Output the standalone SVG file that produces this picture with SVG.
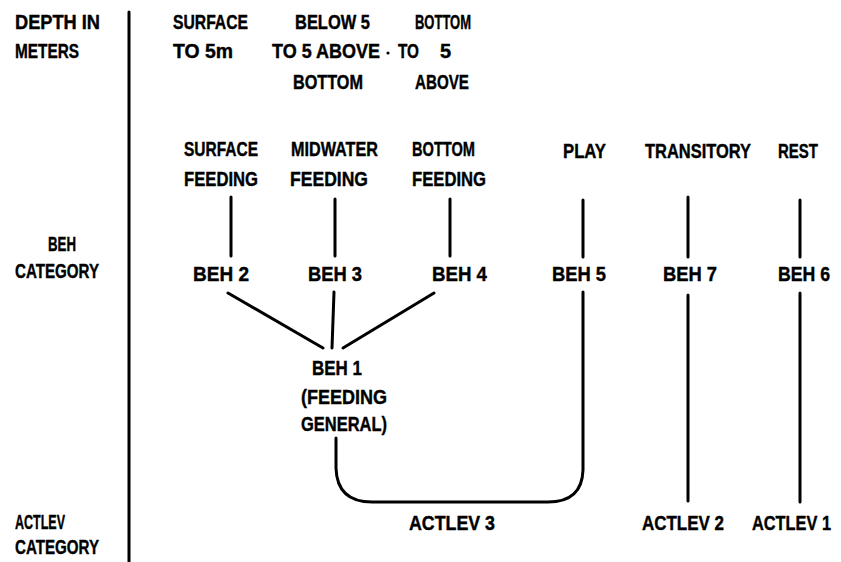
<svg xmlns="http://www.w3.org/2000/svg" width="841" height="562" viewBox="0 0 841 562">
<style>
text{font-family:"Liberation Sans",Arial,sans-serif;font-weight:bold;font-size:20px;fill:#000;stroke:#000;stroke-width:0.4}
.ln{stroke:#000;stroke-width:3;fill:none;stroke-linecap:round;stroke-linejoin:round}
</style>
<rect width="841" height="562" fill="#fff"/>
<g id="axis-labels">
<text x="15" y="29" textLength="85" lengthAdjust="spacingAndGlyphs">DEPTH IN</text>
<text x="15" y="58" textLength="64" lengthAdjust="spacingAndGlyphs">METERS</text>
<text x="48" y="251" textLength="28" lengthAdjust="spacingAndGlyphs">BEH</text>
<text x="15" y="278" textLength="84" lengthAdjust="spacingAndGlyphs">CATEGORY</text>
<text x="15" y="529" textLength="50" lengthAdjust="spacingAndGlyphs">ACTLEV</text>
<text x="15" y="554" textLength="84" lengthAdjust="spacingAndGlyphs">CATEGORY</text>
</g>
<g id="depth-surface">
<text x="173" y="29" textLength="75" lengthAdjust="spacingAndGlyphs">SURFACE</text>
<text x="173" y="58" textLength="60" lengthAdjust="spacingAndGlyphs">TO 5m</text>
</g>
<g id="depth-mid">
<text x="295" y="29" textLength="75" lengthAdjust="spacingAndGlyphs">BELOW 5</text>
<text x="272" y="58" textLength="108" lengthAdjust="spacingAndGlyphs">TO 5 ABOVE</text>
<text x="293" y="89" textLength="70" lengthAdjust="spacingAndGlyphs">BOTTOM</text>
</g>
<circle cx="388" cy="53" r="1.6" fill="#000"/>
<g id="depth-bottom">
<text x="415" y="29" textLength="56" lengthAdjust="spacingAndGlyphs">BOTTOM</text>
<text x="398" y="58"><tspan textLength="21" lengthAdjust="spacingAndGlyphs">TO</tspan> <tspan x="440">5</tspan></text>
<text x="415" y="89" textLength="54" lengthAdjust="spacingAndGlyphs">ABOVE</text>
</g>
<g id="surface-feeding">
<text x="184" y="156" textLength="74" lengthAdjust="spacingAndGlyphs">SURFACE</text>
<text x="184" y="186" textLength="74" lengthAdjust="spacingAndGlyphs">FEEDING</text>
</g>
<g id="midwater-feeding">
<text x="291" y="156" textLength="87" lengthAdjust="spacingAndGlyphs">MIDWATER</text>
<text x="290" y="186" textLength="78" lengthAdjust="spacingAndGlyphs">FEEDING</text>
</g>
<g id="bottom-feeding">
<text x="412" y="156" textLength="63" lengthAdjust="spacingAndGlyphs">BOTTOM</text>
<text x="412" y="186" textLength="74" lengthAdjust="spacingAndGlyphs">FEEDING</text>
</g>
<g id="play"><text x="563" y="158" textLength="43" lengthAdjust="spacingAndGlyphs">PLAY</text></g>
<g id="transitory"><text x="645" y="158" textLength="106" lengthAdjust="spacingAndGlyphs">TRANSITORY</text></g>
<g id="rest"><text x="778" y="158" textLength="40" lengthAdjust="spacingAndGlyphs">REST</text></g>
<g id="beh2"><text x="193" y="281" textLength="56" lengthAdjust="spacingAndGlyphs">BEH 2</text></g>
<g id="beh3"><text x="308" y="281" textLength="54" lengthAdjust="spacingAndGlyphs">BEH 3</text></g>
<g id="beh4"><text x="432" y="281" textLength="55" lengthAdjust="spacingAndGlyphs">BEH 4</text></g>
<g id="beh5"><text x="552" y="281" textLength="54" lengthAdjust="spacingAndGlyphs">BEH 5</text></g>
<g id="beh7"><text x="663" y="281" textLength="54" lengthAdjust="spacingAndGlyphs">BEH 7</text></g>
<g id="beh6"><text x="778" y="281" textLength="52" lengthAdjust="spacingAndGlyphs">BEH 6</text></g>
<g id="beh1">
<text x="312" y="375" textLength="50" lengthAdjust="spacingAndGlyphs">BEH 1</text>
<text x="301" y="404" textLength="86" lengthAdjust="spacingAndGlyphs">(FEEDING</text>
<text x="301" y="431" textLength="86" lengthAdjust="spacingAndGlyphs">GENERAL)</text>
</g>
<g id="actlev3"><text x="409" y="530" textLength="86" lengthAdjust="spacingAndGlyphs">ACTLEV 3</text></g>
<g id="actlev2"><text x="642" y="530" textLength="82" lengthAdjust="spacingAndGlyphs">ACTLEV 2</text></g>
<g id="actlev1"><text x="752" y="530" textLength="79" lengthAdjust="spacingAndGlyphs">ACTLEV 1</text></g>
<g id="connectors" class="ln">
<line x1="129" y1="12" x2="129" y2="562"/>
<line x1="231" y1="197" x2="231" y2="256"/>
<line x1="335" y1="199" x2="335" y2="256"/>
<line x1="450" y1="199" x2="450" y2="256"/>
<line x1="583" y1="200" x2="583" y2="257"/>
<line x1="688" y1="197" x2="688" y2="257"/>
<line x1="800" y1="200" x2="800" y2="257"/>
<line x1="228" y1="293" x2="323" y2="348"/>
<line x1="334" y1="292" x2="332" y2="348"/>
<line x1="434" y1="293" x2="343" y2="348"/>
<path d="M336,438 V468 Q337,502 372,502 H548 Q582,502 583,470 V292"/>
<line x1="688" y1="295" x2="688" y2="501"/>
<line x1="800" y1="293" x2="800" y2="502"/>
</g>
</svg>
